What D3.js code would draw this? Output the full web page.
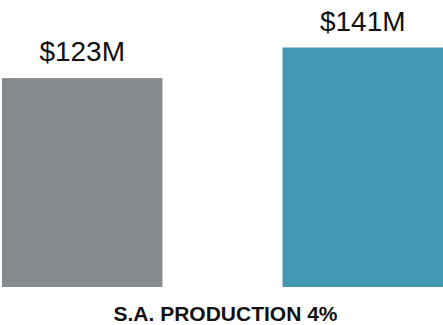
<!DOCTYPE html>
<html>
<head>
<meta charset="utf-8">
<script src="https://cdn.jsdelivr.net/npm/d3@7"></script>
<style>
  html, body { margin: 0; padding: 0; background: #ffffff; }
  svg { display: block; }
  text { font-family: "Liberation Sans", Arial, sans-serif; }
</style>
</head>
<body>
<div id="chart"></div>
<script>
// Production value, previous period vs current period (millions of dollars)
const periods = ["Previous", "Current"];
const values = [123, 141];
const valueLabels = ["$123M", "$141M"];
const barColors = ["#888b8d", "#4498b5"];
const title = "S.A. PRODUCTION 4%";

const chartWidth = 443, chartHeight = 325;
const plotBottom = 287, plotTop = 47.5;

const svg = d3.select("#chart").append("svg")
  .attr("width", chartWidth)
  .attr("height", chartHeight);

const x = d3.scaleBand()
  .domain(periods)
  .range([2, chartWidth])
  .paddingInner(0.428)
  .paddingOuter(0);

const y = d3.scaleLinear()
  .domain([0, d3.max(values)])
  .range([plotBottom, plotTop]);

const rows = periods.map((p, i) => ({ period: p, value: values[i], label: valueLabels[i], color: barColors[i] }));

svg.selectAll("rect.bar")
  .data(rows)
  .join("rect")
  .attr("class", "bar")
  .attr("x", d => x(d.period))
  .attr("y", d => y(d.value))
  .attr("width", x.bandwidth())
  .attr("height", d => y(0) - y(d.value))
  .attr("fill", d => d.color);

svg.selectAll("text.value")
  .data(rows)
  .join("text")
  .attr("class", "value")
  .attr("x", d => x(d.period) + x.bandwidth() / 2)
  .attr("y", d => y(d.value) - 17)
  .attr("text-anchor", "middle")
  .attr("font-size", 28)
  .attr("fill", "#111111")
  .text(d => d.label);

svg.append("text")
  .attr("x", 225.5)
  .attr("y", 321)
  .attr("text-anchor", "middle")
  .attr("font-size", 21)
  .attr("font-weight", "bold")
  .attr("fill", "#111111")
  .text(title);
</script>
</body>
</html>
